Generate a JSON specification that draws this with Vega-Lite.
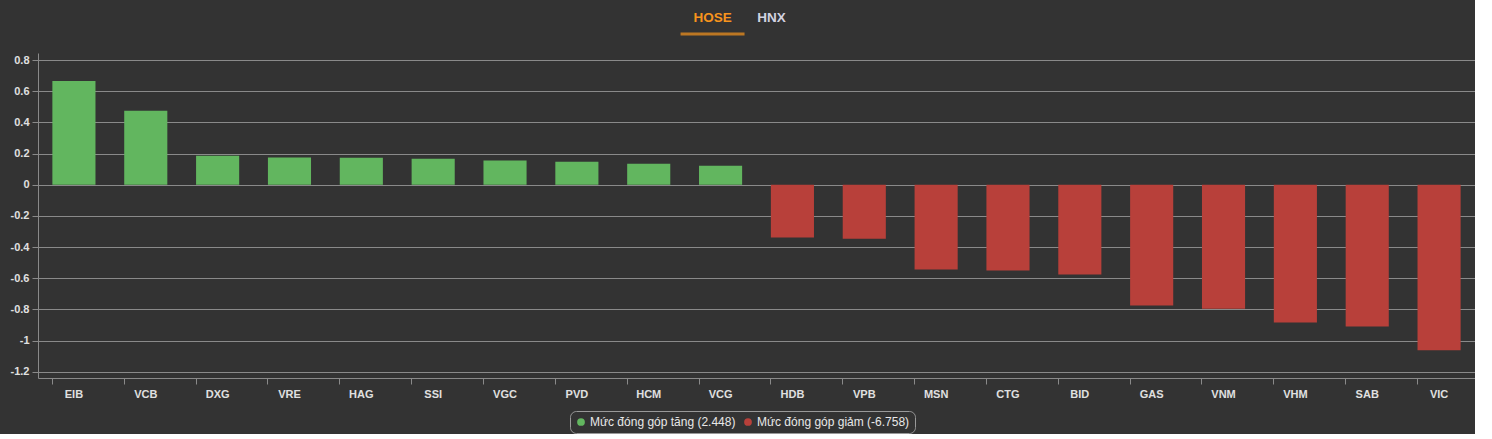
{
  "$schema": "https://vega.github.io/schema/vega-lite/v6.json",
  "background": "#333333",
  "padding": {"left": 10, "top": 0, "right": 0, "bottom": 0},
  "spacing": 17,
  "center": true,
  "config": {
    "view": {"stroke": null},
    "font": "Liberation Sans",
    "legend": {"layout": {"bottom": {"anchor": "middle"}}}
  },
  "vconcat": [
    {
      "width": 144,
      "height": 36,
      "data": {"values": [{"tab": "HOSE", "active": "yes"}, {"tab": "HNX", "active": "no"}]},
      "layer": [
        {
          "mark": {"type": "text", "fontWeight": "bold", "fontSize": 13.5, "font": "Liberation Sans", "baseline": "middle"},
          "encoding": {
            "x": {"field": "tab", "type": "nominal", "sort": null, "scale": {"type": "point", "padding": 0.72, "align": 0.33}, "axis": null},
            "text": {"field": "tab"},
            "color": {"condition": {"test": "datum.active === 'yes'", "value": "#f7941d"}, "value": "#d2d2e0"}
          }
        },
        {
          "transform": [{"filter": "datum.active === 'yes'"}],
          "mark": {"type": "tick", "orient": "horizontal", "size": 64, "thickness": 3, "color": "#f7941d", "yOffset": 16},
          "encoding": {
            "x": {"field": "tab", "type": "nominal", "sort": null, "axis": null}
          }
        }
      ]
    },
    {
      "width": 1437,
      "height": 325,
      "data": {
        "values": [
          {"code": "EIB", "value": 0.666, "group": "Mức đóng góp tăng (2.448)"},
          {"code": "VCB", "value": 0.474, "group": "Mức đóng góp tăng (2.448)"},
          {"code": "DXG", "value": 0.186, "group": "Mức đóng góp tăng (2.448)"},
          {"code": "VRE", "value": 0.174, "group": "Mức đóng góp tăng (2.448)"},
          {"code": "HAG", "value": 0.173, "group": "Mức đóng góp tăng (2.448)"},
          {"code": "SSI", "value": 0.166, "group": "Mức đóng góp tăng (2.448)"},
          {"code": "VGC", "value": 0.155, "group": "Mức đóng góp tăng (2.448)"},
          {"code": "PVD", "value": 0.148, "group": "Mức đóng góp tăng (2.448)"},
          {"code": "HCM", "value": 0.135, "group": "Mức đóng góp tăng (2.448)"},
          {"code": "VCG", "value": 0.122, "group": "Mức đóng góp tăng (2.448)"},
          {"code": "HDB", "value": -0.339, "group": "Mức đóng góp giảm (-6.758)"},
          {"code": "VPB", "value": -0.346, "group": "Mức đóng góp giảm (-6.758)"},
          {"code": "MSN", "value": -0.544, "group": "Mức đóng góp giảm (-6.758)"},
          {"code": "CTG", "value": -0.551, "group": "Mức đóng góp giảm (-6.758)"},
          {"code": "BID", "value": -0.576, "group": "Mức đóng góp giảm (-6.758)"},
          {"code": "GAS", "value": -0.775, "group": "Mức đóng góp giảm (-6.758)"},
          {"code": "VNM", "value": -0.795, "group": "Mức đóng góp giảm (-6.758)"},
          {"code": "VHM", "value": -0.884, "group": "Mức đóng góp giảm (-6.758)"},
          {"code": "SAB", "value": -0.909, "group": "Mức đóng góp giảm (-6.758)"},
          {"code": "VIC", "value": -1.062, "group": "Mức đóng góp giảm (-6.758)"}
        ]
      },
      "mark": {"type": "bar"},
      "encoding": {
        "x": {
          "field": "code",
          "type": "nominal",
          "sort": null,
          "scale": {"paddingInner": 0.4, "paddingOuter": 0.2},
          "axis": {
            "title": null,
            "labelAngle": 0,
            "labelColor": "#e0e0e0",
            "labelFont": "Liberation Sans",
            "labelFontWeight": "bold",
            "labelFontSize": 11,
            "labelPadding": 4,
            "domainColor": "#8a8a8a",
            "tickColor": "#8a8a8a",
            "tickSize": 6,
            "bandPosition": 0,
            "grid": false
          }
        },
        "y": {
          "field": "value",
          "type": "quantitative",
          "scale": {"domain": [-1.24, 0.845], "nice": false},
          "axis": {
            "title": null,
            "values": [-1.2, -1, -0.8, -0.6, -0.4, -0.2, 0, 0.2, 0.4, 0.6, 0.8],
            "labelExpr": "'' + datum.value",
            "labelColor": "#e0e0e0",
            "labelFont": "Liberation Sans",
            "labelFontWeight": "bold",
            "labelFontSize": 11,
            "labelPadding": 3,
            "domainColor": "#8a8a8a",
            "tickColor": "#8a8a8a",
            "tickSize": 6,
            "grid": true,
            "gridColor": "#8a8a8a",
            "gridWidth": 1
          }
        },
        "color": {
          "field": "group",
          "type": "nominal",
          "scale": {
            "domain": ["Mức đóng góp tăng (2.448)", "Mức đóng góp giảm (-6.758)"],
            "range": ["#62b65f", "#b8403a"]
          },
          "legend": {
            "title": null,
            "orient": "bottom",
            "direction": "horizontal",
            "symbolType": "circle",
            "symbolSize": 60,
            "labelColor": "#e8e8e8",
            "labelFont": "Liberation Sans",
            "labelFontSize": 12,
            "labelFontWeight": "normal",
            "columnPadding": 6,
            "symbolOffset": 0,
            "labelOffset": 3,
            "strokeColor": "#999999",
            "cornerRadius": 6,
            "padding": 5,
            "offset": 12
          }
        }
      }
    }
  ]
}
